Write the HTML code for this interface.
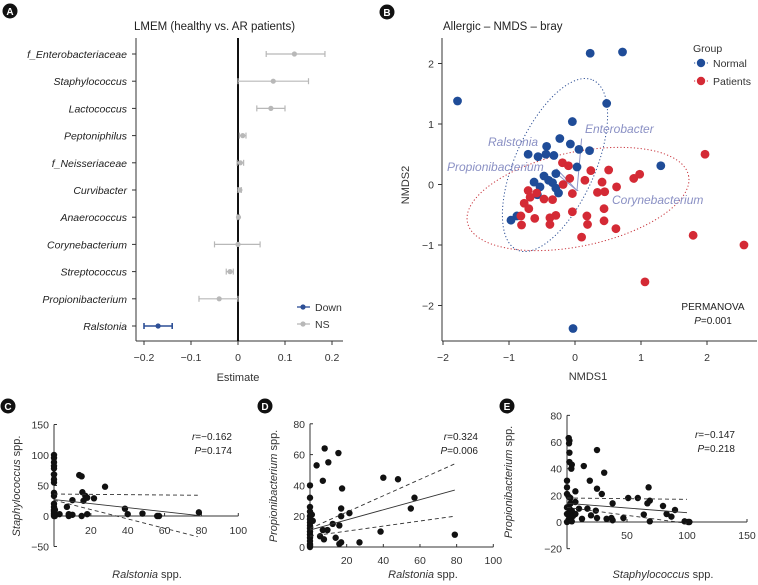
<!DOCTYPE html>
<html><head><meta charset="utf-8"><style>
body{margin:0;background:#fff;}
svg{display:block;font-family:"Liberation Sans",sans-serif;}
</style></head><body>
<svg id="fig" width="758" height="585" viewBox="0 0 758 585"></svg>
<script>
// ---- Panel A data ----
const aCats=["f_Enterobacteriaceae","Staphylococcus","Lactococcus","Peptoniphilus","f_Neisseriaceae","Curvibacter","Anaerococcus","Corynebacterium","Streptococcus","Propionibacterium","Ralstonia"];
const aEst=[0.12,0.075,0.07,0.01,0.005,0.004,0.001,0.0,-0.017,-0.04,-0.17];
const aLo=[0.06,0.0,0.04,0.003,-0.002,0.0,-0.002,-0.05,-0.025,-0.083,-0.2];
const aHi=[0.185,0.15,0.10,0.017,0.012,0.007,0.003,0.047,-0.01,0.0,-0.14];
const aGroup=["NS","NS","NS","NS","NS","NS","NS","NS","NS","NS","Down"];
const aTicks=[-0.2,-0.1,0,0.1,0.2];
const aTickLabels=["\u22120.2","\u22120.1","0","0.1","0.2"];
// ---- Panel B data ----
const bNormX=[0.23,0.72,-1.78,0.48,-0.04,-0.23,-0.07,-0.43,0.06,0.22,-0.71,-0.56,-0.44,-0.32,1.30,0.03,-0.29,-0.47,-0.4,-0.62,-0.34,-0.53,-0.29,-0.25,-0.57,-0.88,-0.97,-0.03];
const bNormY=[2.17,2.19,1.38,1.34,1.04,0.76,0.67,0.63,0.58,0.56,0.5,0.46,0.5,0.48,0.31,0.29,0.18,0.14,0.07,0.04,0.03,-0.04,-0.06,-0.14,-0.17,-0.52,-0.59,-2.38];
const bPatX=[1.97,-0.19,-0.1,0.24,0.51,0.98,0.89,-0.08,0.15,-0.18,0.41,0.63,-0.71,0.34,0.45,-0.04,-0.58,-0.68,-0.47,-0.34,-0.77,-0.7,0.44,-0.61,-0.29,-0.38,-0.04,0.18,-0.82,-0.81,-0.38,0.19,0.44,0.62,0.1,1.79,2.56,1.06];
const bPatY=[0.5,0.36,0.31,0.23,0.24,0.17,0.1,0.1,0.07,0,0.04,-0.04,-0.1,-0.13,-0.12,-0.15,-0.14,-0.21,-0.24,-0.25,-0.31,-0.4,-0.4,-0.56,-0.51,-0.55,-0.45,-0.52,-0.52,-0.67,-0.66,-0.66,-0.6,-0.73,-0.87,-0.84,-1.0,-1.61];
const bTicks=[-2,-1,0,1,2];
const bVecNames=["Enterobacter","Ralstonia","Propionibacterium","Corynebacterium"];
const bVecX=[0.1,-0.28,-0.3,0.05];
const bVecY=[0.76,0.26,0.2,-0.1];
// ---- Panel C data ----
const cX=[0,0,0,0,0,0,0,0,0,0,0,0,0,0,0,0,0,0,0.5,13.7,15,27.7,15.4,17,18,16,21.7,10,7,3,8,10,15,18,38.5,40,48,56,57,78.6,8,0.5];
const cY=[100,95,88,82,78,68,68,60,55,38,33,20,15,10,8,5,3,0,0,67,65,48,39,33,30,25,29,26,15,3,0,2,0,3,12,3,4,0,0,6,3,10];
const cXTicks=[20,40,60,80,100];
const cYTicks=[-50,0,50,100,150];
// ---- Panel D data ----
const dX=[0,0,0,0,0,0,0,0,0,0,0,0,0,0,0,0,3.6,8,10,7,15.5,17.5,17,17,21.5,12.4,16,7,9.5,5.5,7.6,14,16,17,27,38.5,40,48,55,57,79,1,1.5];
const dY=[40,32,26,23,20,18,16,14,12,10,8,6,4,2,1,0,53,64,55,43,61,38,25,20,22,15,14,11,11,7,5,6,2,3,3,10,45,44,25,32,8,21,17];
const dXTicks=[20,40,60,80,100];
const dYTicks=[0,20,40,60,80];
// ---- Panel E data ----
const eX=[1.4,2,1.7,2,2,4,3.6,0,0,0,1.4,2.8,3,0,2,4,0,3,5,1.4,0,4,7,7,7,10,12.5,14,17,19,20,24,25,25,25,29,31,33,37,38,38,47,51,59,64,68,67,69,69,80,83,87,90,98,101,102];
const eY=[63,61,59,52,45,43,40,31,26,21,19,18,14,11,10,8.5,6,5,4.5,2,0,0.5,15,23,6,10,2.4,42,10,31,5,8.5,3,54,25,21,37,2.4,3,14,1.3,3,18,18,5.6,26,14,16,0.5,12,6,4,9,0.5,0,0];
const eXTicks=[50,100,150];
const eYTicks=[-20,0,20,40,60,80];

const NS="http://www.w3.org/2000/svg";
const svg=document.getElementById('fig');
function el(tag,attrs,parent,text){const e=document.createElementNS(NS,tag);for(const k in attrs)e.setAttribute(k,attrs[k]);if(text!==undefined)e.textContent=text;(parent||svg).appendChild(e);return e;}
function grp(name){const g=el('g',{});


return g;}
function badge(x,y,L,name){const g=grp(name);el('circle',{cx:x,cy:y,r:7.5,fill:'#111'},g);el('text',{x:x,y:y+4,'text-anchor':'middle','font-size':10,'font-weight':'bold',fill:'#fff'},g,L);}

// ===== Panel A =====
(function(){
const g=grp('panel-a-forest-plot');
const x0=238,sx=470,y1=54,dy=27.2;
const X=v=>x0+v*sx, Y=i=>y1+i*dy;
badge(10,11,'A','panel-a-label');
const t=el('text',{x:134,y:30,'font-size':11.5,fill:'#222'},g,'LMEM (healthy vs. AR patients)');


el('line',{x1:136,y1:38,x2:136,y2:341,stroke:'#333','stroke-width':1},g);
el('line',{x1:136,y1:341,x2:343,y2:341,stroke:'#333','stroke-width':1},g);
el('line',{x1:X(0),y1:38,x2:X(0),y2:341,stroke:'#111','stroke-width':2},g);
aTicks.forEach((v,i)=>{el('line',{x1:X(v),y1:341,x2:X(v),y2:345,stroke:'#333'},g);
const tl=el('text',{x:X(v),y:361,'text-anchor':'middle','font-size':10.5,fill:'#333'},g,aTickLabels[i]);

});
const xl=el('text',{x:X(0),y:381,'text-anchor':'middle','font-size':11,fill:'#333'},g,'Estimate');


aCats.forEach((c,i)=>{
el('line',{x1:132,y1:Y(i),x2:136,y2:Y(i),stroke:'#333'},g);
const lb=el('text',{x:127,y:Y(i)+4,'text-anchor':'end','font-size':10.5,'font-style':'italic',fill:'#222'},g,c);


const col=aGroup[i]==='Down'?'#2d4f96':'#b8b8b8';
const w=aGroup[i]==='Down'?1.6:1.2;
const eg=el('g',{},g);


el('line',{x1:X(aLo[i]),y1:Y(i),x2:X(aHi[i]),y2:Y(i),stroke:col,'stroke-width':w},eg);
el('line',{x1:X(aLo[i]),y1:Y(i)-3,x2:X(aLo[i]),y2:Y(i)+3,stroke:col,'stroke-width':w},eg);
el('line',{x1:X(aHi[i]),y1:Y(i)-3,x2:X(aHi[i]),y2:Y(i)+3,stroke:col,'stroke-width':w},eg);
el('circle',{cx:X(aEst[i]),cy:Y(i),r:2.6,fill:col},eg);
});
[['Down','#2d4f96',307],['NS','#b8b8b8',324]].forEach(d=>{
const lg=el('g',{},g);


el('line',{x1:297,y1:d[2],x2:310,y2:d[2],stroke:d[1],'stroke-width':1.3},lg);
el('circle',{cx:303,cy:d[2],r:2.6,fill:d[1]},lg);
el('text',{x:315,y:d[2]+4,'font-size':10.5,fill:'#333'},lg,d[0]);});
})();

// ===== Panel B =====
(function(){
const g=grp('panel-b-nmds-plot');
const x0=575,sx=66,y0=184.5,sy=60.5;
const X=v=>x0+v*sx, Y=v=>y0-v*sy;
badge(387,12,'B','panel-b-label');
const t=el('text',{x:443,y:30,'font-size':11.5,fill:'#222'},g,'Allergic \u2013 NMDS \u2013 bray');


el('line',{x1:442,y1:38,x2:442,y2:341,stroke:'#333'},g);
el('line',{x1:442,y1:341,x2:757,y2:341,stroke:'#333'},g);
bTicks.forEach(v=>{
el('line',{x1:X(v),y1:341,x2:X(v),y2:345,stroke:'#333'},g);
el('text',{x:X(v),y:361,'text-anchor':'middle','font-size':10.5,fill:'#333'},g,v<0?'\u2212'+(-v):String(v));
el('line',{x1:438,y1:Y(v),x2:442,y2:Y(v),stroke:'#333'},g);
el('text',{x:434,y:Y(v)+4,'text-anchor':'end','font-size':10.5,fill:'#333'},g,v<0?'\u2212'+(-v):String(v));});
const xl=el('text',{x:588,y:380,'text-anchor':'middle','font-size':11,fill:'#333'},g,'NMDS1');


const yl=el('text',{x:0,y:0,'text-anchor':'middle','font-size':11,fill:'#333',transform:'translate(409,185) rotate(-90)'},g,'NMDS2');


const e1=el('ellipse',{cx:555,cy:165,rx:93,ry:40,transform:'rotate(-66 555 165)',fill:'none',stroke:'#2d4f96','stroke-width':1,'stroke-dasharray':'1.2 2.2'},g);


const e2=el('ellipse',{cx:578,cy:199,rx:113,ry:47,transform:'rotate(-12 578 199)',fill:'none',stroke:'#c8343c','stroke-width':1,'stroke-dasharray':'1.2 2.2'},g);


const lx=[585,488,447,612];
const ly=[133,146,171,204];
bVecNames.forEach((n,i)=>{
const a=el('line',{x1:X(0.03),y1:Y(-0.1),x2:X(bVecX[i]),y2:Y(bVecY[i]),stroke:'#9096c8','stroke-width':1},g);


const tt=el('text',{x:lx[i],y:ly[i],'font-size':12,'font-style':'italic',fill:'#8a90c4'},g,n);

});
bNormX.forEach((v,i)=>{const c=el('circle',{cx:X(v),cy:Y(bNormY[i]),r:4.4,fill:'#1f4c98'},g);

});
bPatX.forEach((v,i)=>{const c=el('circle',{cx:X(v),cy:Y(bPatY[i]),r:4.4,fill:'#d42a35'},g);

});
const lg=grp('legend');
el('text',{x:693,y:52,'font-size':10.5,fill:'#333'},lg,'Group');
[['Normal','#1f4c98',63],['Patients','#d42a35',81]].forEach(d=>{
const le=el('g',{},lg);


el('line',{x1:694,y1:d[2],x2:709,y2:d[2],stroke:d[1],'stroke-dasharray':'1.2 2'},le);
el('circle',{cx:701,cy:d[2],r:4.2,fill:d[1]},le);
el('text',{x:713,y:d[2]+4,'font-size':10.5,fill:'#333'},le,d[0]);});
el('text',{x:713,y:310,'text-anchor':'middle','font-size':10,fill:'#222'},g,'PERMANOVA');
const p=el('text',{x:713,y:324,'text-anchor':'middle','font-size':10,fill:'#222'},g);
el('tspan',{'font-style':'italic'},p,'P');el('tspan',{},p,'=0.001');
})();

// ===== Scatter panels C/D/E =====
function scatter(o){
const g=grp(o.name);
const X=v=>o.ax+v*o.sx, Y=v=>o.ay0-v*o.sy;
badge(o.bx,o.by,o.L,o.name+'-label');
const yMin=o.yT[0],yMax=o.yT[o.yT.length-1];
el('line',{x1:o.ax,y1:Y(yMax),x2:o.ax,y2:Y(yMin),stroke:'#333'},g);
el('line',{x1:o.ax,y1:Y(0),x2:X(o.xT[o.xT.length-1]),y2:Y(0),stroke:'#333'},g);
o.yT.forEach(v=>{el('line',{x1:o.ax,y1:Y(v),x2:o.ax+3,y2:Y(v),stroke:'#333'},g);
el('text',{x:o.ax-5,y:Y(v)+4,'text-anchor':'end','font-size':10.5,fill:'#333'},g,v<0?'\u2212'+(-v):String(v));});
o.xT.forEach(v=>{el('line',{x1:X(v),y1:Y(0),x2:X(v),y2:Y(0)-3,stroke:'#333'},g);
el('text',{x:X(v),y:o.xlabY,'text-anchor':'middle','font-size':10.5,fill:'#333'},g,String(v));});
o.xs.forEach((v,i)=>{const c=el('circle',{cx:X(v),cy:Y(o.ys[i]),r:3.2,fill:'#111'},g);

});
const fit=el('line',{x1:X(0),y1:Y(o.fit[0]),x2:X(o.xe),y2:Y(o.fit[1]),stroke:'#333','stroke-width':0.9},g);


[o.up,o.lo].forEach(b=>{const d=el('line',{x1:X(0),y1:Y(b[0]),x2:X(o.xe),y2:Y(b[1]),stroke:'#333','stroke-width':0.9,'stroke-dasharray':'4 3'},g);

});
const r=el('text',{x:o.rx,y:o.ry,'text-anchor':'end','font-size':10,fill:'#222'},g);
el('tspan',{'font-style':'italic'},r,'r');el('tspan',{},r,o.rt);
const p=el('text',{x:o.rx,y:o.ry+14,'text-anchor':'end','font-size':10,fill:'#222'},g);
el('tspan',{'font-style':'italic'},p,'P');el('tspan',{},p,o.pt);
const xt=el('text',{x:o.xtx,y:578,'text-anchor':'middle','font-size':11,fill:'#333'},g);
el('tspan',{'font-style':'italic'},xt,o.xn);el('tspan',{},xt,' spp.');


const yt=el('text',{x:0,y:0,'text-anchor':'middle','font-size':11,fill:'#333',transform:'translate('+o.ytx+','+o.yty+') rotate(-90)'},g);
el('tspan',{'font-style':'italic'},yt,o.yn);el('tspan',{},yt,' spp.');


}
scatter({name:'panel-c-scatter',L:'C',bx:8,by:406,ax:54,ay0:516,sx:1.843,sy:0.61,xs:cX,ys:cY,xT:cXTicks,yT:cYTicks,xlabY:534,
fit:[27,1],up:[36,34],lo:[26,-34],xe:78,rx:232,ry:440,rt:'=\u22120.162',pt:'=0.174',xn:'Ralstonia',yn:'Staphylococcus',xtx:147,ytx:20,yty:486});
scatter({name:'panel-d-scatter',L:'D',bx:265,by:406,ax:310,ay0:547,sx:1.833,sy:1.54,xs:dX,ys:dY,xT:dXTicks,yT:dYTicks,xlabY:564,
fit:[11,37],up:[12,54],lo:[7,20],xe:79,rx:478,ry:440,rt:'=0.324',pt:'=0.006',xn:'Ralstonia',yn:'Propionibacterium',xtx:423,ytx:277,yty:486});
scatter({name:'panel-e-scatter',L:'E',bx:507,by:406,ax:567,ay0:522,sx:1.2,sy:1.333,xs:eX,ys:eY,xT:eXTicks,yT:eYTicks,xlabY:539,
fit:[14,7],up:[18,17],lo:[11,-1],xe:100,rx:735,ry:438,rt:'=\u22120.147',pt:'=0.218',xn:'Staphylococcus',yn:'Propionibacterium',xtx:663,ytx:512,yty:482});
</script>
</body></html>
